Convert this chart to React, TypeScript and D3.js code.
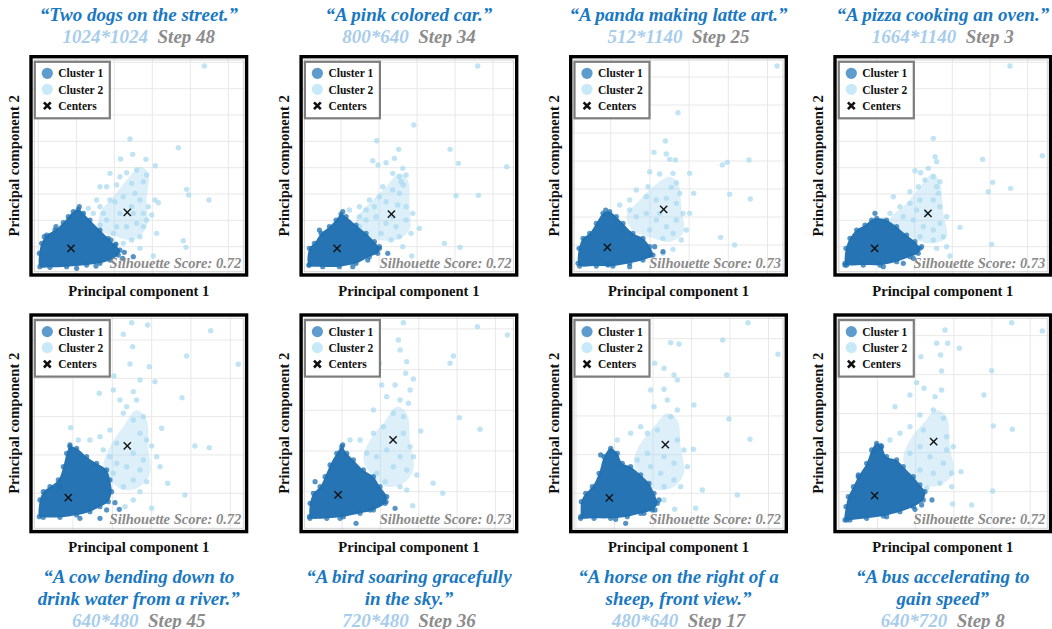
import React, { useEffect } from "react";
import * as d3 from "d3";

// cluster plots, 4 x 2 panels. values are PCA coords
// (units: 0.3 per px of the frame, origin at frame bottom-left)

type P = [number, number];

const prompts: string[][] = [
  ["\u201cTwo dogs on the street.\u201d"],
  ["\u201cA pink colored car.\u201d"],
  ["\u201cA panda making latte art.\u201d"],
  ["\u201cA pizza cooking an oven.\u201d"],
  ["\u201cA cow bending down to", "drink water from a river.\u201d"],
  ["\u201cA bird soaring gracefully", "in the sky.\u201d"],
  ["\u201cA horse on the right of a", "sheep, front view.\u201d"],
  ["\u201cA bus accelerating to", "gain speed\u201d"],
];
const resolutions = ["1024*1024", "800*640", "512*1140", "1664*1140", "640*480", "720*480", "480*640", "640*720"];
const steps = ["Step 48", "Step 34", "Step 25", "Step 3", "Step 45", "Step 36", "Step 17", "Step 8"];
const scores = [0.72, 0.72, 0.73, 0.73, 0.72, 0.73, 0.72, 0.72];

const centers1: P[] = [[12.5, 8.5], [11.3, 8.5], [11.5, 8.8], [12.4, 8.5], [11.7, 10.7], [11.6, 11.5], [12.1, 10.6], [12.4, 11.3]];
const centers2: P[] = [[29.4, 19.3], [27.6, 18.8], [28.4, 20.2], [28.4, 19.0], [29.4, 26.2], [28.1, 28.0], [28.9, 26.6], [30.1, 27.5]];

// dense part of cluster 1 (outline) and its loose points
const core1: P[][] = [
  [[3.2,3.0],[3.0,7.0],[3.7,10.0],[5.2,12.5],[7.7,14.0],[10.2,16.2],[11.7,18.0],[13.2,19.5],[14.7,20.2],[16.2,19.0],[18.2,17.0],[21.2,14.0],[23.7,11.5],[25.7,9.5],[27.2,8.0],[26.7,6.5],[24.2,5.0],[21.2,4.0],[17.2,3.5],[11.2,3.0],[6.2,2.8]],
  [[2.8,3.5],[3.0,8.5],[4.5,10.0],[6.5,13.0],[9.0,15.0],[11.0,17.0],[12.5,18.8],[14.0,18.0],[17.0,15.5],[20.0,13.0],[22.5,10.5],[24.0,8.5],[23.5,7.0],[21.0,6.0],[17.0,4.0],[12.0,3.0],[7.0,3.0]],
  [[2.7,4.0],[3.0,8.5],[4.2,11.5],[6.2,13.0],[8.2,16.0],[10.2,19.0],[12.2,19.5],[14.2,18.0],[16.2,16.0],[19.2,13.0],[22.2,11.5],[24.2,9.0],[25.2,6.5],[22.2,5.0],[18.2,4.0],[13.2,3.2],[8.2,3.2],[3.2,3.2]],
  [[3.5,4.0],[3.8,8.5],[5.0,11.5],[7.0,14.0],[9.5,15.5],[11.5,17.0],[13.0,17.5],[16.0,17.0],[19.0,15.0],[22.0,12.5],[24.5,10.5],[26.0,8.5],[25.5,7.0],[23.0,6.0],[19.0,4.5],[14.0,3.5],[9.0,3.5],[4.0,3.5]],
  [[3.0,5.0],[3.2,10.0],[4.2,12.5],[6.2,14.0],[8.7,16.0],[10.2,20.0],[11.2,24.0],[12.2,26.0],[14.2,25.5],[17.2,23.0],[20.2,21.0],[23.2,19.0],[24.2,16.0],[24.7,12.5],[23.7,9.5],[21.2,8.0],[18.2,6.5],[14.2,5.5],[9.2,4.8],[4.2,4.8]],
  [[3.0,5.0],[3.2,9.0],[4.2,12.0],[6.2,14.0],[7.7,17.0],[9.2,20.5],[11.2,24.0],[12.7,26.0],[14.2,24.0],[16.2,22.0],[19.2,19.0],[22.2,17.0],[24.2,14.0],[26.2,11.0],[25.7,9.0],[22.2,7.0],[18.2,6.0],[13.2,5.0],[8.2,4.5],[3.2,4.5]],
  [[3.5,5.0],[3.7,9.5],[5.0,12.0],[7.0,14.0],[9.0,18.0],[10.5,23.0],[12.5,25.5],[14.5,24.0],[16.0,21.0],[18.5,20.0],[21.5,17.5],[24.0,15.0],[25.5,12.0],[26.5,9.0],[25.0,7.0],[21.5,6.0],[17.5,5.0],[12.5,4.5],[7.5,4.5],[3.5,4.5]],
  [[3.5,4.0],[3.8,8.0],[4.5,11.0],[6.0,14.0],[7.5,17.0],[10.0,21.0],[11.5,25.0],[13.0,27.0],[14.5,26.0],[16.0,23.0],[19.0,22.0],[21.0,20.0],[24.0,17.0],[26.0,14.5],[27.5,12.5],[27.0,10.0],[24.0,8.0],[20.0,6.5],[15.0,5.2],[10.0,4.5],[5.0,4.0]],
];
const loose1: P[][] = [
  [[31.2,6.0],[28.5,7.3],[26.0,9.8],[24.5,11.0],[15.0,21.0],[8.0,15.0],[4.5,12.0],[14.2,2.5],[20.0,3.2],[28.0,5.5]],
  [[26.5,7.0],[16.0,3.0],[6.0,14.0],[24.0,9.0],[3.0,3.5],[13.0,19.5],[20.5,5.0]],
  [[28.2,7.5],[18.2,3.0],[11.7,3.5],[25.7,9.0],[24.5,6.5],[11.0,20.0]],
  [[15.0,3.0],[3.5,3.5],[26.5,9.0],[12.5,19.0],[24.0,5.5],[21.0,4.0]],
  [[25.7,9.2],[27.0,7.2],[21.2,4.5],[15.2,4.5],[23.2,7.0],[9.2,14.0],[12.2,26.5]],
  [[28.7,7.5],[26.0,9.5],[17.0,3.0],[12.2,4.5],[21.2,7.0],[4.7,15.5],[13.0,26.5]],
  [[25.8,7.0],[17.0,3.0],[14.0,4.2],[9.5,23.5],[27.0,10.0],[22.5,6.0]],
  [[29.6,10.0],[24.5,7.2],[16.0,5.0],[4.0,4.0],[14.3,26.3],[7.5,17.5],[26.5,8.5]],
];

// busy middle of cluster 2 (outline) and its points
const core2: P[][] = [
  [[21.2,19],[25.2,24],[29.2,29],[33.2,33],[35.7,31],[35.2,23],[35.2,15],[31.2,11],[26.2,12],[21.2,14]],
  [[17,17],[21,22],[26,27],[30,31],[32.5,29],[33,21],[33,14],[29,11],[24,11],[18,13]],
  [[17.2,18],[21.2,23],[25.2,27],[30.2,30],[32.7,28],[33.7,21],[34.2,13],[30.2,10.5],[25.2,11.5],[19.2,14]],
  [[17,17],[22,22],[26,27],[30,31],[32,28],[33,19],[34,12],[30,10],[25,11],[20,14]],
  [[22.2,20],[24.2,26],[28.2,32],[32.2,37],[35.2,34],[35.7,26],[36.2,18],[33.2,14],[28.2,13],[24.2,16]],
  [[19.2,22],[21.2,28],[25.2,33],[29.2,38],[32.2,36],[33.2,27],[34.2,19],[31.2,15],[26.2,14],[22.2,17]],
  [[19.5,21],[21.5,27],[25.5,32],[29.5,36],[32.5,34],[33.5,26],[34.5,18],[31.5,14],[26.5,13],[22.5,16]],
  [[21,22],[23,28],[27,33],[31,37],[34,35],[35,26],[36,18],[33,15],[28,14],[24,17]],
];
const points2: P[][] = [
  [[52.5,63.2],[44.7,38.7],[65.4,32.8],[30.2,41.3],[31.0,36.7],[27.4,35.3],[35.0,35.2],[37.8,33.3],[32.2,32.0],[29.2,31.2],[35.2,30.5],[34.2,28.5],[30.7,28.0],[26.2,27.5],[23.2,27.0],[47.2,26.2],[47.8,24.5],[53.9,23.0],[38.7,22.2],[33.2,23.0],[31.7,25.0],[28.2,24.0],[25.7,22.5],[21.2,21.0],[19.2,19.0],[34.2,19.0],[35.2,17.0],[32.2,16.0],[29.2,15.0],[26.2,15.0],[23.2,17.0],[21.2,15.5],[16.2,19.0],[38.2,13.0],[33.2,12.0],[30.7,11.0],[28.2,10.0],[46.2,10.8],[47.0,8.8],[37.2,6.2],[33.2,8.5],[25.2,13.0],[27.2,19.0],[30.7,21.0],[27.2,30.0],[24.2,31.0],[21.2,27.0],[37.7,23.0],[31.2,19.0],[24.2,23.0],[20.2,23.0],[17.7,20.5],[22.2,19.0],[35.7,21.0],[36.7,18.5],[34.2,15.0]],
  [[53.5,63.2],[34.3,45.5],[23.2,40.8],[29.8,38.2],[45.2,38.2],[47.7,34.0],[62.2,33.0],[22.0,34.8],[26.0,34.2],[23.6,33.5],[28.5,35.5],[31.0,32.5],[32.0,30.5],[30.5,28.5],[31.2,27.5],[28.0,26.0],[24.0,24.0],[30.0,25.0],[47.0,24.3],[53.7,24.4],[21.0,23.0],[18.0,21.0],[15.0,20.0],[32.0,21.0],[34.0,19.0],[32.0,17.0],[29.0,15.0],[26.0,16.0],[23.0,18.0],[20.0,17.0],[18.0,18.0],[36.0,14.5],[33.5,13.0],[30.0,12.0],[27.5,11.0],[24.5,13.0],[43.5,10.0],[48.2,8.8],[33.7,6.2],[31.0,9.0],[20.0,20.0],[29.5,21.5],[26.0,22.5],[28.0,18.0],[30.0,30.0],[28.0,31.0],[25.0,27.0],[22.5,21.0],[18.0,15.0]],
  [[62.4,63.2],[32.7,49.2],[28.9,40.7],[25.5,37.3],[29.2,36.8],[30.2,35.2],[31.9,35.0],[46.0,33.5],[47.5,34.3],[54.0,35.0],[24.2,31.5],[27.2,30.8],[31.2,31.0],[36.2,31.0],[32.2,28.2],[30.7,26.8],[37.4,25.0],[48.2,24.7],[54.4,23.3],[20.2,26.0],[23.2,24.0],[18.2,23.0],[15.2,21.5],[26.2,23.0],[29.2,23.5],[32.2,22.0],[34.2,19.0],[36.2,19.0],[32.2,17.0],[29.2,15.0],[26.2,17.0],[23.2,19.0],[20.2,18.0],[18.2,20.0],[31.2,13.0],[28.2,11.5],[33.7,11.0],[35.2,14.0],[45.5,11.8],[49.7,9.5],[31.2,8.2],[28.2,7.0],[24.2,14.0],[27.2,19.0],[23.7,27.0],[33.2,25.0]],
  [[53.0,63.2],[30.0,41.5],[62.7,36.3],[44.8,35.2],[30.5,36.0],[31.0,34.5],[24.5,31.8],[26.2,31.2],[28.5,32.5],[30.0,30.0],[27.5,29.0],[25.5,27.0],[23.0,25.5],[31.0,27.0],[31.5,25.0],[47.8,28.3],[46.5,25.5],[53.2,26.5],[18.0,24.0],[20.0,21.0],[23.0,22.0],[26.0,23.0],[30.0,23.0],[32.0,21.0],[34.0,18.0],[38.0,14.8],[32.0,16.0],[30.0,14.0],[27.0,15.0],[24.0,17.0],[21.0,18.0],[17.0,19.0],[15.0,17.0],[33.0,12.0],[30.0,11.0],[34.0,9.0],[31.0,8.5],[47.5,9.7],[35.0,6.2],[26.0,12.0],[28.0,19.0],[25.0,20.0],[32.0,28.5]],
  [[30.7,63.2],[35.5,62.5],[28.2,59.7],[54.4,60.8],[31.0,56.0],[47.2,53.2],[62.7,50.7],[30.2,50.8],[36.0,50.0],[25.4,47.2],[33.2,46.0],[37.7,45.5],[21.0,42.0],[25.2,43.0],[31.2,42.5],[45.8,40.7],[27.2,40.0],[32.2,40.0],[29.2,38.0],[34.2,35.0],[31.2,34.0],[28.2,36.0],[39.7,31.5],[12.4,31.7],[24.2,31.0],[21.2,29.0],[18.2,28.0],[14.7,28.0],[33.2,30.0],[35.2,28.0],[36.7,26.2],[49.7,26.2],[54.0,25.7],[26.2,27.0],[22.2,25.0],[31.2,24.0],[34.2,22.0],[38.2,23.0],[39.2,20.0],[33.2,19.0],[29.2,20.0],[26.2,21.0],[24.2,23.0],[41.5,15.0],[35.2,15.5],[31.2,16.0],[28.2,14.0],[33.2,12.5],[46.7,11.5],[31.2,10.0],[28.7,8.0],[36.7,7.5],[25.2,18.0]],
  [[31.2,63.2],[53.4,62.0],[62.4,59.5],[29.7,58.0],[30.2,55.0],[32.2,51.5],[45.2,51.0],[46.2,53.2],[24.0,51.0],[31.9,48.0],[34.2,46.3],[24.7,44.5],[28.7,44.5],[33.2,43.0],[26.2,41.0],[30.2,40.0],[32.7,39.0],[48.0,34.7],[54.2,31.2],[36.4,30.7],[22.2,37.0],[28.2,36.0],[31.2,35.0],[18.2,28.0],[15.2,28.0],[22.2,30.0],[25.2,32.0],[31.2,30.0],[33.2,26.0],[34.2,23.0],[20.2,24.0],[23.2,23.0],[26.2,25.0],[30.2,23.0],[28.2,20.0],[32.2,19.0],[35.2,17.5],[25.7,15.5],[30.2,14.0],[40.1,15.0],[43.0,12.0],[34.0,8.3],[32.2,13.0],[23.2,18.0]],
  [[53.7,63.2],[46.1,58.0],[62.7,53.7],[30.5,57.2],[33.0,56.8],[25.7,51.0],[28.5,49.5],[31.5,47.5],[32.5,46.0],[47.3,47.5],[24.5,43.0],[28.5,43.2],[29.5,40.0],[37.5,38.5],[25.5,38.0],[32.5,37.0],[30.5,35.0],[48.0,34.3],[54.3,28.2],[21.5,32.0],[18.5,30.0],[14.5,28.0],[23.5,30.0],[26.5,31.0],[32.5,28.0],[34.5,25.0],[37.3,25.2],[28.5,23.0],[23.5,24.0],[20.5,22.0],[31.5,21.0],[35.5,20.0],[27.5,18.0],[31.5,16.0],[33.5,14.0],[40.0,13.0],[50.5,11.5],[28.5,14.0],[31.7,7.2],[38.0,7.5],[28.5,10.0],[24.5,20.0]],
  [[53.5,63.2],[62.7,60.7],[33.5,61.0],[31.0,57.0],[34.3,57.0],[37.8,55.5],[32.2,53.5],[26.3,53.0],[47.5,48.8],[32.5,48.7],[25.0,45.2],[27.2,43.5],[32.5,43.0],[45.2,41.5],[23.0,41.5],[30.5,41.0],[18.5,38.0],[26.0,35.5],[30.0,37.0],[33.0,34.5],[48.0,32.2],[53.7,31.2],[17.0,28.0],[20.0,30.0],[23.0,32.0],[27.0,31.0],[34.0,29.0],[36.0,26.0],[26.0,26.0],[23.0,24.0],[29.0,23.0],[33.0,21.0],[38.3,18.5],[35.5,18.0],[30.0,18.0],[26.0,19.0],[32.0,15.0],[35.5,14.0],[28.0,13.5],[47.8,12.7],[41.5,8.5],[35.8,8.8],[34.0,25.0]],
];

// grid lines: first line and spacing, same units
const gridX: P[] = [[2.7, 11.4], [1.1, 11.4], [0.8, 11.75], [1.8, 11.3], [1.3, 11.8], [1.3, 11.5], [2.1, 11.55], [1.8, 11.45]];
const gridY: P[] = [[9, 7.9], [9, 7.9], [9.5, 8.4], [9, 7.9], [12, 11.5], [12.5, 12.2], [12, 11.6], [12.5, 11.7]];

const W = 1052;
const H = 629;
const FW = 219;
const UNIT = 0.3;
const frameLeft = [29.3, 299.4, 569, 833.3];
const frameTop = [55, 313.3];
const frameBottom = [276.7, 533.3];
const FONT = "'Liberation Serif', 'Times New Roman', serif";

const C1 = "#1f70b1";
const C2 = "#a9daf1";

function Cross({ x, y, s, w }: { x: number; y: number; s: number; w: number }) {
  return (
    <g stroke="#111" strokeWidth={w} strokeLinecap="butt">
      <line x1={x - s} y1={y - s} x2={x + s} y2={y + s} />
      <line x1={x - s} y1={y + s} x2={x + s} y2={y - s} />
    </g>
  );
}

function Panel({ i }: { i: number }) {
  const row = i < 4 ? 0 : 1;
  const left = frameLeft[i % 4];
  const top = frameTop[row];
  const fh = frameBottom[row] - top;
  const x = d3.scaleLinear().domain([0, FW * UNIT]).range([left, left + FW]);
  const y = d3.scaleLinear().domain([0, fh * UNIT]).range([frameBottom[row], top]);
  const blob = d3.line<P>().x((d) => x(d[0])).y((d) => y(d[1])).curve(d3.curveCatmullRomClosed.alpha(0.5));
  const gx = d3.range(-2, 8).map((k) => gridX[i][0] + k * gridX[i][1]).filter((v) => v > 1.3 && v < FW * UNIT - 1.3);
  const gy = d3.range(-2, 10).map((k) => gridY[i][0] + k * gridY[i][1]).filter((v) => v > 1.3 && v < fh * UNIT - 1.3);
  const cx = left + FW / 2;
  const clip = `clip-${i}`;

  return (
    <g>
      <defs>
        <clipPath id={clip}>
          <rect x={left + 2} y={top + 2} width={FW - 4} height={fh - 4} />
        </clipPath>
      </defs>
      <rect x={left} y={top} width={FW} height={fh} fill="#fff" />
      <g clipPath={`url(#${clip})`}>
        {gx.map((v, k) => (
          <line key={"gx" + k} x1={x(v)} x2={x(v)} y1={top} y2={top + fh} stroke="#e8e8e8" strokeWidth={1} />
        ))}
        {gy.map((v, k) => (
          <line key={"gy" + k} x1={left} x2={left + FW} y1={y(v)} y2={y(v)} stroke="#e8e8e8" strokeWidth={1} />
        ))}
        <rect x={left + 5} y={top + 5} width={FW - 10} height={fh - 10} fill="none" stroke="#d4d4d4" strokeWidth={1} />
        <path d={blob(core2[i]) || ""} fill={C2} opacity={0.4} />
        {points2[i].map((d, k) => (
          <circle key={"b" + k} cx={x(d[0])} cy={y(d[1])} r={2.7} fill={C2} opacity={0.72} />
        ))}
        <path d={blob(core1[i]) || ""} fill={C1} opacity={0.97} />
        {core1[i].concat(loose1[i]).map((d, k) => (
          <circle key={"a" + k} cx={x(d[0])} cy={y(d[1])} r={2.6} fill={C1} opacity={0.75} />
        ))}
        <Cross x={x(centers1[i][0])} y={y(centers1[i][1])} s={3.6} w={1.4} />
        <Cross x={x(centers2[i][0])} y={y(centers2[i][1])} s={3.6} w={1.4} />
        <text
          x={left + FW - 7}
          y={frameBottom[row] - 9}
          textAnchor="end"
          fontFamily={FONT}
          fontStyle="italic"
          fontWeight="bold"
          fontSize={14.5}
          fill="#8a8a8a"
        >
          {`Silhouette Score: ${scores[i].toFixed(2)}`}
        </text>
        {/* legend */}
        <g transform={`translate(${left + 5.5},${top + 6.8})`}>
          <rect x={0} y={0} width={75} height={56.5} fill="#fff" stroke="#7d7d7d" strokeWidth={2.2} />
          <circle cx={12.5} cy={11.5} r={5.6} fill="#5e9ccd" />
          <circle cx={12.5} cy={27.5} r={5.6} fill="#c8e9f8" />
          <Cross x={12.5} y={44} s={3.4} w={2.6} />
          {["Cluster 1", "Cluster 2", "Centers"].map((t, k) => (
            <text key={t} x={23.5} y={15.5 + k * 16.3} fontFamily={FONT} fontWeight="bold" fontSize={11.5} fill="#111">
              {t}
            </text>
          ))}
        </g>
      </g>
      <rect x={left + 1.7} y={top + 1.7} width={FW - 3.4} height={fh - 3.4} fill="none" stroke="#000" strokeWidth={3.4} />
      <text x={cx} y={frameBottom[row] + 18.8} textAnchor="middle" fontFamily={FONT} fontWeight="bold" fontSize={14.6} fill="#111">
        Principal component 1
      </text>
      <text
        transform={`translate(${left - 10},${top + fh / 2}) rotate(-90)`}
        textAnchor="middle"
        fontFamily={FONT}
        fontWeight="bold"
        fontSize={14.6}
        fill="#111"
      >
        Principal component 2
      </text>
      <Title i={i} cx={cx} />
    </g>
  );
}

function Title({ i, cx }: { i: number; cx: number }) {
  const lines = prompts[i];
  const y0 = i < 4 ? 21 : 582.5;
  const gap = 22.3;
  return (
    <g fontFamily={FONT} fontStyle="italic" fontWeight="bold" fontSize={19} textAnchor="middle">
      {lines.map((t, k) => (
        <text key={k} x={cx} y={y0 + k * gap} fill="#1a78c2">
          {t}
        </text>
      ))}
      <text x={cx} y={y0 + lines.length * gap}>
        <tspan fill="#a8cdec">{resolutions[i]}</tspan>
        <tspan dx={9.5} fill="#8c8c8c">
          {steps[i]}
        </tspan>
      </text>
    </g>
  );
}

export default function App() {
  useEffect(() => {
    document.body.style.margin = "0";
  }, []);
  return (
    <svg width={W} height={H} style={{ position: "absolute", left: 0, top: 0, background: "#fff" }}>
      {d3.range(8).map((i) => (
        <Panel key={i} i={i} />
      ))}
    </svg>
  );
}
